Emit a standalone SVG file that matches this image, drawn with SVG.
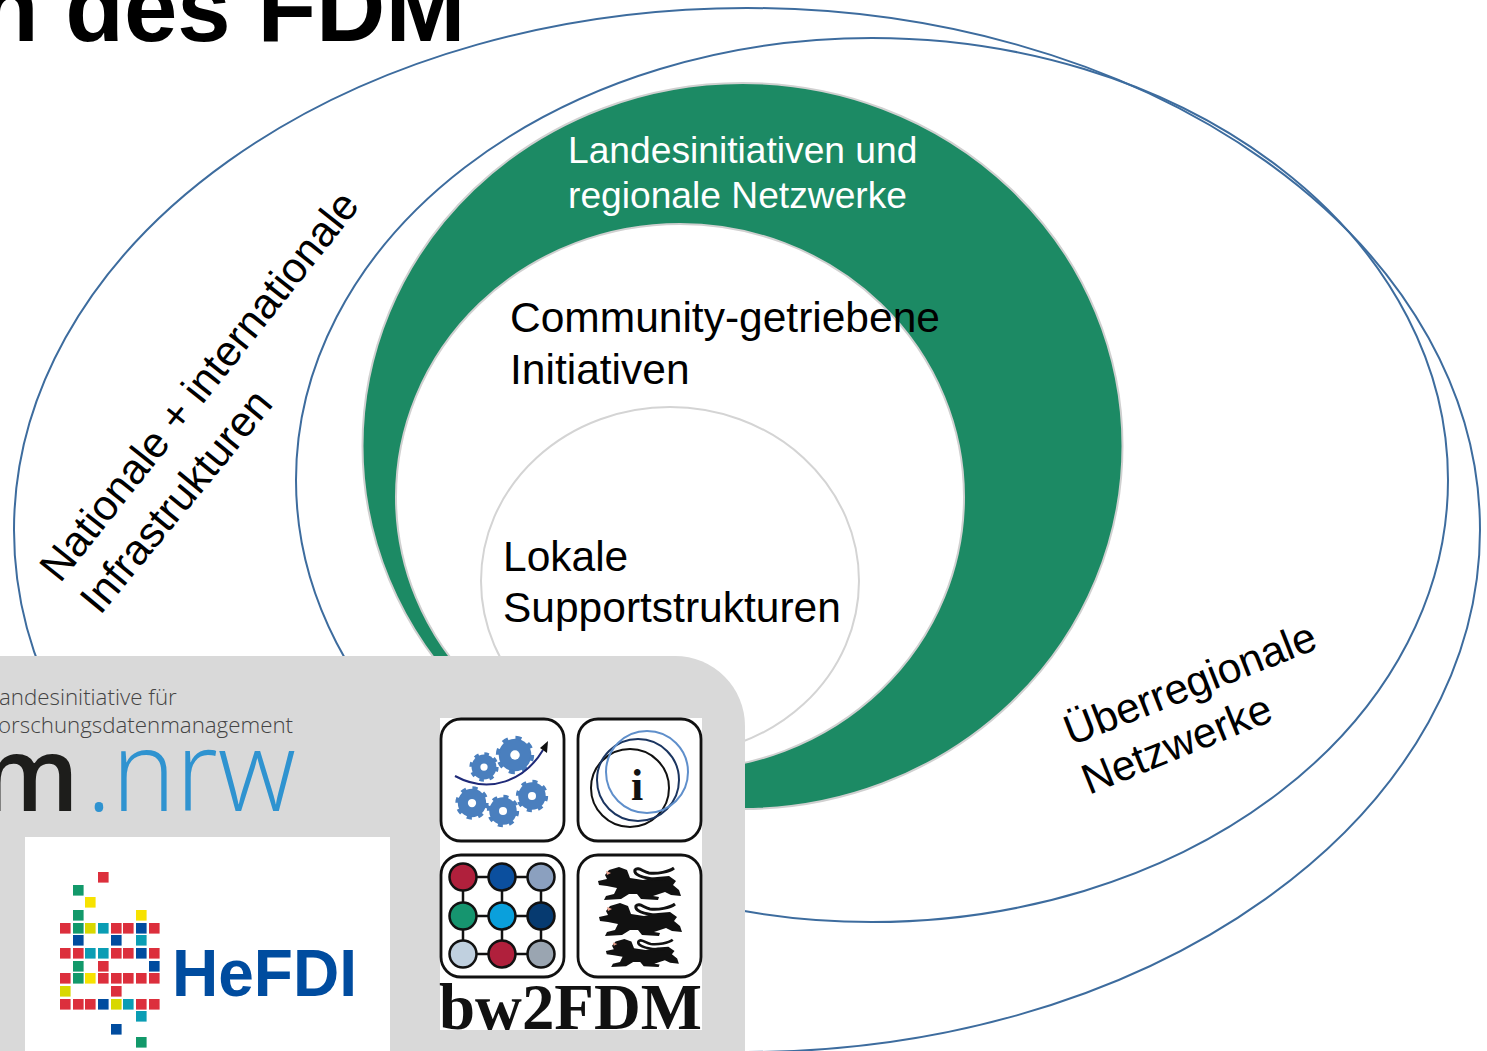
<svg xmlns="http://www.w3.org/2000/svg" width="1487" height="1051" viewBox="0 0 1487 1051">
<style>
text{font-family:"Liberation Sans",Arial,sans-serif}
.ring{fill:none;stroke:#3d6c9e;stroke-width:2}
.lbl{font-size:42.500px;fill:#000}
.wht{font-size:37.200px;fill:#fff}
.rot{font-size:42.500px;fill:#000}
.sm{font-family:"Open Sans",sans-serif;font-weight:300;font-size:22.300px;fill:#444}
.os{font-family:"Open Sans",sans-serif}
.srf{font-family:"Liberation Serif",serif;font-weight:700;fill:#111}
.tile{fill:#fff;stroke:#111;stroke-width:2.800}
.n{stroke:#111;stroke-width:2.500}
.R{fill:#dc2f3c}.G{fill:#12996a}.Y{fill:#f7e200}.L{fill:#d8d800}.T{fill:#0a9db4}.B{fill:#004c9f}
#hefdi-squares rect{width:10.600px;height:10.600px}
</style>
<defs>
<g id="gear"><circle r="8.6" fill="#4a7fbe" stroke="#4a7fbe" stroke-width="3" stroke-dasharray="3 3.75"/><circle r="8" fill="#4a7fbe"/><circle r="2.5" fill="#fff"/></g>
<g id="lion">
<path d="M1 14L10 12L8 8L12 3L22 0L30 3L33 11L46 13L60 10L72 9L79 14L76 18L82 23L84 29L74 28L68 25L62 27L56 29L62 30L61 33L44 32L40 27L32 27L24 32L7 33L9 29L17 27L20 21L10 19L2 18Z" fill="#111"/>
<path d="M68 12C52 13 36 9 38 3C41 -1 46 5 52 6C60 7 72 5 77 1" fill="none" stroke="#111" stroke-width="3"/>
<path d="M9 4L14 6L10 8Z" fill="#e9a08c"/>
</g>
</defs>
<g id="title"><text x="-20" y="41" font-size="96" font-weight="700" fill="#000">n des FDM</text></g>
<g id="connectors">
<ellipse class="ring" cx="747" cy="530" rx="733" ry="522"/>
<ellipse class="ring" cx="872" cy="480" rx="576" ry="442"/>
</g>
<g id="node-landes"><ellipse cx="742.500" cy="446" rx="380" ry="363" fill="#1c8a64" stroke="#d0d0d0" stroke-width="2"/>
<text class="wht" x="568" y="163">Landesinitiativen und</text><text class="wht" x="568" y="208">regionale Netzwerke</text></g>
<g id="node-community"><ellipse cx="680" cy="497" rx="284" ry="273" fill="#fff" stroke="#d0d0d0" stroke-width="2"/>
<text class="lbl" x="510" y="332">Community-getriebene</text><text class="lbl" x="510" y="384">Initiativen</text></g>
<g id="node-lokal"><ellipse cx="670" cy="581" rx="189" ry="174" fill="#fff" stroke="#d4d4d4" stroke-width="2"/>
<text class="lbl" x="503" y="571">Lokale</text><text class="lbl" x="503" y="622">Supportstrukturen</text></g>
<g id="node-national">
<text class="rot" transform="translate(60 584) rotate(-51.500)">Nationale + internationale</text>
<text class="rot" transform="translate(100 616) rotate(-50.500)">Infrastrukturen</text></g>
<g id="node-ueber">
<text class="rot" transform="translate(1071 746) rotate(-21.500)">Überregionale</text>
<text class="rot" transform="translate(1089 795) rotate(-22)">Netzwerke</text></g>
<g id="panel">
<path d="M-10 656H675A70 70 0 0 1 745 726V1060H-10Z" fill="#d9d9d9"/>
<text class="sm" x="-1" y="705">andesinitiative für</text>
<text class="sm" x="-2" y="733">orschungsdatenmanagement</text>
<text class="os" x="-20" y="811" font-size="104" font-weight="600" fill="#1d1d1b">m</text>
<text class="os" x="86" y="811" font-size="112" font-weight="300" fill="#2f93d0" textLength="210" lengthAdjust="spacingAndGlyphs">.nrw</text>
</g>
<g id="hefdi">
<rect x="25" y="837" width="365" height="214" fill="#fff"/>
<g id="hefdi-squares">
<rect class="R" x="98" y="872" width="10" height="10"/><rect class="G" x="73" y="885" width="10" height="10"/><rect class="Y" x="85" y="897" width="10" height="10"/><rect class="G" x="73" y="910" width="10" height="10"/><rect class="Y" x="136" y="910" width="10" height="10"/>
<rect class="R" x="60" y="923" width="10" height="10"/><rect class="G" x="73" y="923" width="10" height="10"/><rect class="L" x="85" y="923" width="10" height="10"/><rect class="T" x="98" y="923" width="10" height="10"/><rect class="R" x="111" y="923" width="10" height="10"/><rect class="R" x="123" y="923" width="10" height="10"/><rect class="B" x="136" y="923" width="10" height="10"/><rect class="R" x="149" y="923" width="10" height="10"/>
<rect class="B" x="73" y="935" width="10" height="10"/><rect class="B" x="111" y="935" width="10" height="10"/><rect class="T" x="136" y="935" width="10" height="10"/>
<rect class="R" x="60" y="948" width="10" height="10"/><rect class="R" x="73" y="948" width="10" height="10"/><rect class="T" x="85" y="948" width="10" height="10"/><rect class="T" x="98" y="948" width="10" height="10"/><rect class="R" x="111" y="948" width="10" height="10"/><rect class="R" x="123" y="948" width="10" height="10"/><rect class="B" x="136" y="948" width="10" height="10"/><rect class="R" x="149" y="948" width="10" height="10"/>
<rect class="G" x="73" y="961" width="10" height="10"/><rect class="R" x="98" y="961" width="10" height="10"/><rect class="B" x="149" y="961" width="10" height="10"/>
<rect class="R" x="60" y="973" width="10" height="10"/><rect class="G" x="73" y="973" width="10" height="10"/><rect class="Y" x="85" y="973" width="10" height="10"/><rect class="R" x="98" y="973" width="10" height="10"/><rect class="R" x="111" y="973" width="10" height="10"/><rect class="R" x="123" y="973" width="10" height="10"/><rect class="R" x="136" y="973" width="10" height="10"/><rect class="R" x="149" y="973" width="10" height="10"/>
<rect class="L" x="60" y="986" width="10" height="10"/><rect class="R" x="111" y="986" width="10" height="10"/>
<rect class="R" x="60" y="999" width="10" height="10"/><rect class="R" x="73" y="999" width="10" height="10"/><rect class="R" x="85" y="999" width="10" height="10"/><rect class="B" x="98" y="999" width="10" height="10"/><rect class="L" x="111" y="999" width="10" height="10"/><rect class="T" x="123" y="999" width="10" height="10"/><rect class="R" x="136" y="999" width="10" height="10"/><rect class="R" x="149" y="999" width="10" height="10"/>
<rect class="T" x="136" y="1011" width="10" height="10"/><rect class="B" x="111" y="1024" width="10" height="10"/><rect class="G" x="136" y="1037" width="10" height="10"/>
</g>
<text x="172" y="996" font-size="67" font-weight="700" fill="#004c9f" textLength="185" lengthAdjust="spacingAndGlyphs">HeFDI</text>
</g>
<g id="bw2fdm">
<rect x="440" y="718" width="262" height="312" fill="#fff"/>
<rect class="tile" x="441" y="719" width="123" height="122" rx="20"/>
<rect class="tile" x="578" y="719" width="123" height="122" rx="20"/>
<rect class="tile" x="441" y="855" width="123" height="122" rx="20"/>
<rect class="tile" x="578" y="855" width="123" height="122" rx="20"/>
<use href="#gear" transform="translate(484 767) scale(1.45)"/>
<use href="#gear" transform="translate(515 755) scale(1.9)"/>
<use href="#gear" transform="translate(472 803) scale(1.65)"/>
<use href="#gear" transform="translate(503 811) scale(1.6)"/>
<use href="#gear" transform="translate(532 796) scale(1.6)"/>
<path d="M455 776C490 795 525 780 543 750" fill="none" stroke="#1f2a78" stroke-width="2"/>
<path d="M548 741L547 753L540 748Z" fill="#111"/>
<circle cx="630" cy="788" r="39" fill="none" stroke="#111" stroke-width="2"/>
<circle cx="638" cy="780" r="41" fill="none" stroke="#1b3560" stroke-width="2"/>
<circle cx="647" cy="772" r="41" fill="none" stroke="#5f8fcb" stroke-width="2"/>
<text class="srf" x="637" y="800" font-size="44" text-anchor="middle">i</text>
<path d="M463 877H541M463 916H541M463 954H541M463 877V954M502 877V954M541 877V954" stroke="#111" stroke-width="2.500" fill="none"/>
<circle class="n" cx="463" cy="877" r="13.500" fill="#b0203c"/><circle class="n" cx="502" cy="877" r="13.500" fill="#0b4f9e"/><circle class="n" cx="541" cy="877" r="13.500" fill="#8ba0bf"/>
<circle class="n" cx="463" cy="916" r="13.500" fill="#16956f"/><circle class="n" cx="502" cy="916" r="13.500" fill="#0aa0dc"/><circle class="n" cx="541" cy="916" r="13.500" fill="#063a70"/>
<circle class="n" cx="463" cy="954" r="13.500" fill="#c0d0df"/><circle class="n" cx="502" cy="954" r="13.500" fill="#b0203c"/><circle class="n" cx="541" cy="954" r="13.500" fill="#9aa5b1"/>
<use href="#lion" transform="translate(597 867)"/>
<use href="#lion" transform="translate(598 903)"/>
<use href="#lion" transform="translate(605 939) scale(.88 .85)"/>
<text class="srf" x="439" y="1029" font-size="66" textLength="263" lengthAdjust="spacingAndGlyphs">bw2FDM</text>
</g>
</svg>
